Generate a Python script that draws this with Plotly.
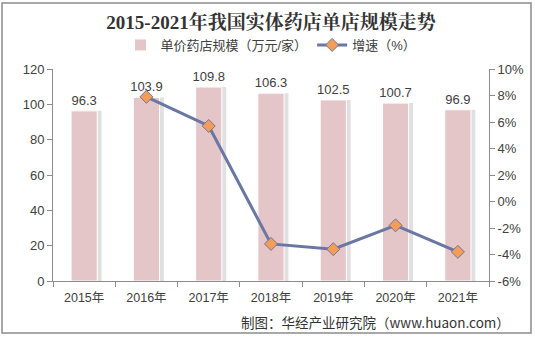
import plotly.graph_objects as go

years = ["2015年", "2016年", "2017年", "2018年", "2019年", "2020年", "2021年"]
scale = [96.3, 103.9, 109.8, 106.3, 102.5, 100.7, 96.9]
growth_years = ["2016年", "2017年", "2018年", "2019年", "2020年", "2021年"]
growth = [7.9, 5.7, -3.2, -3.6, -1.8, -3.8]
left_ticks = [0, 20, 40, 60, 80, 100, 120]
right_ticks = [-6, -4, -2, 0, 2, 4, 6, 8, 10]

W, H = 535, 338
L, R, T, B = 53, 489, 69, 281

font_main = "Liberation Sans, Arial, Noto Sans CJK SC, sans-serif"
txt_col = "#404040"

fig = go.Figure()

# soft shadow of bars
fig.add_trace(go.Bar(
    x=years, y=scale, width=0.42, offset=-0.21 + 0.07,
    marker=dict(color="rgba(0,0,0,0.12)", line=dict(width=0)),
    showlegend=False, hoverinfo="skip"))

fig.add_trace(go.Bar(
    x=years, y=scale, width=0.42, offset=-0.21,
    name="单价药店规模（万元/家）",
    marker=dict(color="#E4C6C8", line=dict(color="#FFFFFF", width=1)),
    text=[f"{v:.1f}" for v in scale], textposition="outside",
    constraintext="none",
    textfont=dict(size=13, color=txt_col, family=font_main),
    cliponaxis=False))

fig.add_trace(go.Scatter(
    x=growth_years, y=growth, yaxis="y2", mode="lines+markers",
    name="增速（%）",
    line=dict(color="#6A77A3", width=3),
    marker=dict(symbol="diamond", size=10, color="#F59D56",
                line=dict(color="#6A77A3", width=1))))

fig.update_layout(
    width=W, height=H,
    margin=dict(l=L, r=W - R, t=T, b=H - B),
    paper_bgcolor="white", plot_bgcolor="white",
    barmode="overlay",
    font=dict(family=font_main, size=12, color=txt_col),
    title=dict(text="<b>2015-2021年我国实体药店单店规模走势</b>",
               x=0.5, xref="paper", xanchor="center", y=1 - 22 / H, yanchor="middle",
               font=dict(family="Liberation Serif, Noto Serif CJK SC, Noto Sans CJK SC, serif",
                         size=19, color="#333333")),
    legend=dict(orientation="h", x=0.5, xanchor="center", y=(B - 45) / (B - T),
                yanchor="middle", font=dict(size=13, color=txt_col),
                bgcolor="rgba(0,0,0,0)", itemwidth=30, traceorder="normal"),
    xaxis=dict(type="category", categoryorder="array", categoryarray=years,
               showline=True, linecolor="#8C8C8C", linewidth=1,
               ticks="outside", tickson="boundaries", ticklen=5, tickcolor="#8C8C8C",
               ticklabelstandoff=5,
               tickfont=dict(size=12.5, color=txt_col), showgrid=False, zeroline=False),
    yaxis=dict(range=[0, 120], tickvals=left_ticks, ticktext=[str(v) for v in left_ticks],
               showline=True, linecolor="#8C8C8C",
               ticks="outside", ticklen=5, tickcolor="#8C8C8C", showgrid=False,
               zeroline=False, tickfont=dict(size=13, color=txt_col)),
    yaxis2=dict(range=[-6, 10], tickvals=right_ticks,
                ticktext=[f"{v}%" for v in right_ticks],
                overlaying="y", side="right",
                showline=True, linecolor="#8C8C8C", ticks="outside", ticklen=5,
                tickcolor="#8C8C8C", showgrid=False, zeroline=False,
                tickfont=dict(size=13, color=txt_col)),
    shapes=[dict(type="rect", xref="paper", yref="paper",
                 x0=(2 - L) / (R - L), x1=(531 - L) / (R - L),
                 y0=(B - 333) / (B - T), y1=(B - 3) / (B - T),
                 line=dict(color="#8C8C8C", width=1.5), fillcolor="rgba(0,0,0,0)")],
    annotations=[dict(text="制图：华经产业研究院（www.huaon.com）",
                      xref="paper", yref="paper",
                      x=(512 - L) / (R - L), xanchor="right",
                      y=(B - 322) / (B - T), yanchor="middle", showarrow=False,
                      font=dict(size=13.5, color="#333333",
                                family="Noto Sans CJK SC, Liberation Sans, sans-serif"))],
)

fig.write_html("out.html")
